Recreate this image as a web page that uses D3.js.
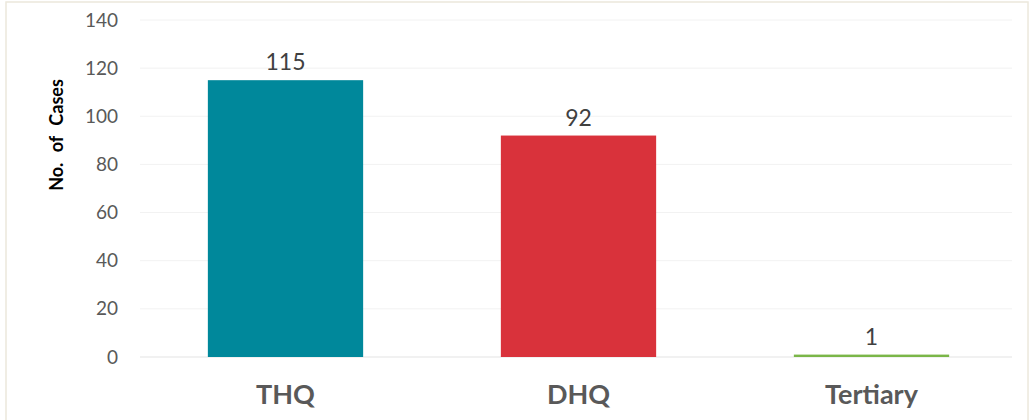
<!DOCTYPE html>
<html>
<head>
<meta charset="utf-8">
<script src="https://cdn.jsdelivr.net/npm/d3@7"></script>
<style>
  body { margin: 0; background: #fff; }
  text { font-family: Lato, "Open Sans", sans-serif; }
</style>
</head>
<body>
<svg width="1031" height="420"></svg>
<script>
// data
const categories = ["THQ", "DHQ", "Tertiary"];
const cases = [115, 92, 1];
const barColors = ["#00889b", "#d9323b", "#7ab648"];
const yTicks = [0, 20, 40, 60, 80, 100, 120, 140];

const svg = d3.select("svg");

// outer frame
svg.append("rect")
  .attr("x", 6).attr("y", 2).attr("width", 1022).attr("height", 440)
  .attr("fill", "none").attr("stroke", "#ece8dc").attr("stroke-width", 1.5);

const x = d3.scaleBand().domain(categories).range([139, 1018]).paddingInner(0.47).paddingOuter(0.235);
const y = d3.scaleLinear().domain([0, 140]).range([357, 20]);

// gridlines
svg.append("g").selectAll("line").data(yTicks).join("line")
  .attr("x1", 140).attr("x2", 1012)
  .attr("y1", d => y(d)).attr("y2", d => y(d))
  .attr("stroke", d => d === 0 ? "#e3e3e3" : "#f2f2f2").attr("stroke-width", 1);

// y axis labels
const yAxis = svg.append("g").attr("transform", "translate(118,0)")
  .call(d3.axisLeft(y).tickValues(yTicks).tickSize(0).tickPadding(0));
yAxis.select(".domain").remove();
yAxis.selectAll("text").attr("font-size", 19).attr("fill", "#595959")
  .style("font-family", "Lato, 'Open Sans', sans-serif");

// y title
svg.append("text")
  .attr("transform", "translate(63,135) rotate(-90)")
  .attr("text-anchor", "middle")
  .attr("font-size", 18).attr("font-weight", "bold").attr("fill", "#000")
  .attr("word-spacing", 6)
  .text("No. of Cases");

// bars
svg.append("g").selectAll("rect").data(categories).join("rect")
  .attr("x", d => x(d))
  .attr("width", x.bandwidth())
  .attr("y", (d, i) => y(cases[i]))
  .attr("height", (d, i) => y(0) - y(cases[i]))
  .attr("fill", (d, i) => barColors[i]);

// value labels
svg.append("g").selectAll("text").data(categories).join("text")
  .attr("x", d => x(d) + x.bandwidth() / 2)
  .attr("y", (d, i) => y(cases[i]) - 10)
  .attr("text-anchor", "middle")
  .attr("font-size", 23).attr("fill", "#404040")
  .text((d, i) => cases[i]);

// category labels
const xAxis = svg.append("g").attr("transform", "translate(0,357)")
  .call(d3.axisBottom(x).tickSize(0).tickPadding(28));
xAxis.select(".domain").remove();
xAxis.selectAll("text").attr("font-size", 27).attr("font-weight", "bold").attr("fill", "#595959")
  .style("font-family", "Lato, 'Open Sans', sans-serif");
</script>
</body>
</html>
